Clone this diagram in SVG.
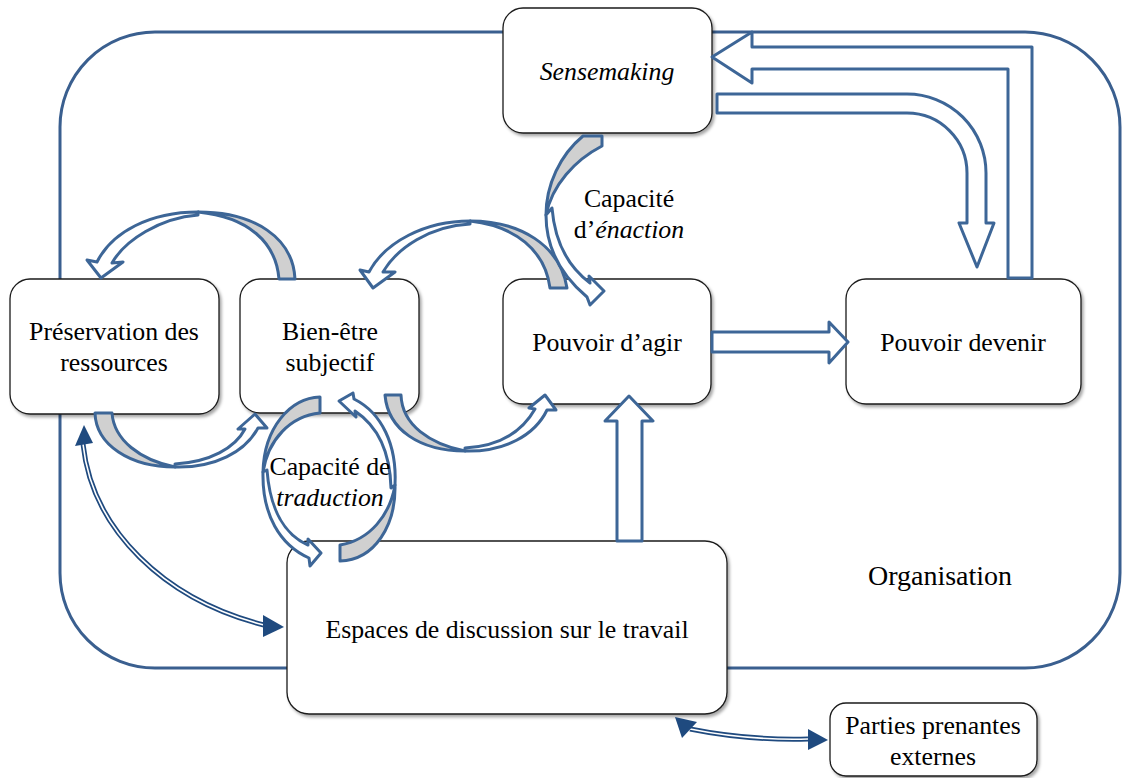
<svg xmlns="http://www.w3.org/2000/svg" width="1124" height="778" viewBox="0 0 1124 778">
<defs>
<filter id="sh" x="-10%" y="-10%" width="125%" height="130%">
<feDropShadow dx="2" dy="2.5" stdDeviation="1.8" flood-color="#000" flood-opacity="0.35"/>
</filter>
</defs>
<style>
.box{fill:#fff;stroke:#1a1a1a;stroke-width:1.3;filter:url(#sh)}
.org{fill:none;stroke:#3a5f8f;stroke-width:3}
.t{font-family:'Liberation Serif','DejaVu Serif',serif;font-size:25.8px;fill:#000;text-anchor:middle}
.i{font-style:italic}
.w{fill:#fff;stroke:#3d6697;stroke-width:3;stroke-linejoin:round}
.g{fill:#d0d0d0;stroke:#3d6697;stroke-width:3;stroke-linejoin:round}
.dl{fill:none;stroke:#1f4a7f;stroke-width:5}
.dlw{fill:none;stroke:#fff;stroke-width:1.6}
.hd{fill:#1f4a7f}
</style>
<rect width="1124" height="778" fill="#fff"/>
<g id="organisation">
<rect class="org" x="60" y="32" width="1060" height="636" rx="95" ry="95"/>
<text class="t" x="940" y="585" style="font-size:28px">Organisation</text>
</g>
<g id="sensemaking">
<rect class="box" x="503" y="8" width="209" height="125" rx="20"/>
<text class="t i" x="607" y="80">Sensemaking</text>
</g>
<g id="preservation">
<rect class="box" x="10" y="279" width="209" height="135" rx="20"/>
<text class="t" x="114" y="340">Préservation des</text>
<text class="t" x="114" y="371">ressources</text>
</g>
<g id="bienetre">
<rect class="box" x="240" y="279" width="179" height="134" rx="20"/>
<text class="t" x="330" y="340">Bien-être</text>
<text class="t" x="330" y="371">subjectif</text>
</g>
<g id="pouvoiragir">
<rect class="box" x="503" y="279" width="208" height="125" rx="20"/>
<text class="t" x="607" y="351">Pouvoir d’agir</text>
</g>
<g id="pouvoirdevenir">
<rect class="box" x="846" y="279" width="235" height="125" rx="20"/>
<text class="t" x="963" y="351">Pouvoir devenir</text>
</g>
<g id="espaces">
<rect class="box" x="287" y="541" width="440" height="173" rx="22"/>
<text class="t" x="507" y="638">Espaces de discussion sur le travail</text>
</g>
<g id="parties">
<rect class="box" x="830" y="703" width="207" height="73" rx="16"/>
<text class="t" x="933" y="734">Parties prenantes</text>
<text class="t" x="933" y="765">externes</text>
</g>
<g id="connectors">
<path class="w" d="M712,332 L829,332 L829,322 L848,342 L829,363 L829,352 L712,352 Z"/>
<path class="w" d="M617,541 L617,421 L605,421 L629,396 L653,421 L642,421 L642,541 Z"/>
<path class="w" d="M717,94 L907,94 A79,79 0 0 1 986,173 L986,223 L994,223 L977,267 L959,223 L967,223 L967,173 A60,60 0 0 0 907,113 L717,113 Z"/>
<path class="w" d="M1008,278 L1008,69 L752,69 L752,83 L712,57 L752,32 L752,47 L1032,47 L1032,278 Z"/>
<path class="g" d="M279,279 L295,279 C293,238 255,212 198,212 C248,217 276,242 279,279 Z"/>
<path class="w" d="M198,212 C150,212 112,232 97,262 L87,260 L101,278 L123,262 L112,263 C125,240 160,218 198,215 Z"/>
<path class="g" d="M550,288 L567,288 C560,245 520,221 470,221 C515,226 545,250 550,288 Z"/>
<path class="w" d="M470,221 C425,221 385,242 369,272 L360,270 L373,288 L395,272 L383,272 C397,248 430,226 470,224 Z"/>
<path class="g" d="M583,136 C560,155 546,185 546,215 C552,185 575,160 602,146 L602,136 Z"/>
<path class="w" d="M546,215 C546,250 562,276 587,297 L590,305 L604,291 L589,276 L590,283 C570,268 555,245 552,208 Z"/>
<path class="g" d="M95,413 C96,445 130,467 175,467 C140,460 114,440 112,413 Z"/>
<path class="w" d="M175,467 C215,468 245,452 258,428 L267,428 L255,414 L238,429 L245,429 C235,448 210,462 175,464 Z"/>
<path class="g" d="M385,395 C388,430 420,451 465,451 C430,444 402,425 401,395 Z"/>
<path class="w" d="M465,451 C505,452 535,435 547,410 L556,410 L545,395 L529,408 L535,409 C522,432 500,446 465,448 Z"/>
<path class="g" d="M320,397 C290,398 264,428 263,472 C268,440 290,416 320,413 Z"/>
<path class="w" d="M263,472 C262,515 280,545 309,558 L310,566 L321,553 L308,539 L308,545 C285,535 270,510 267,470 Z"/>
<path class="g" d="M340,561 C375,560 396,525 395,485 C390,515 370,540 340,545 Z"/>
<path class="w" d="M395,485 C397,445 382,413 354,399 L353,393 L339,401 L356,417 L355,411 C376,425 390,450 391,488 Z"/>
<path class="dl" d="M83,444 C92,530 165,600 264,625"/>
<path class="dlw" d="M83,444 C92,530 165,600 264,625"/>
<polygon class="hd" points="84,425 75,446 93,443"/>
<polygon class="hd" points="284,627 263,615 263,637"/>
<path class="dl" d="M690,729 C730,737 770,740 808,739"/>
<path class="dlw" d="M690,729 C730,737 770,740 808,739"/>
<polygon class="hd" points="675,717 697,722 682,738"/>
<polygon class="hd" points="828,740 808,729 808,750"/>
</g>
<g id="labels">
<text class="t" x="629" y="207">Capacité</text>
<text class="t" x="629" y="238">d’<tspan class="i">énaction</tspan></text>
<text class="t" x="330" y="475">Capacité de</text>
<text class="t i" x="330" y="506">traduction</text>
</g>
</svg>
